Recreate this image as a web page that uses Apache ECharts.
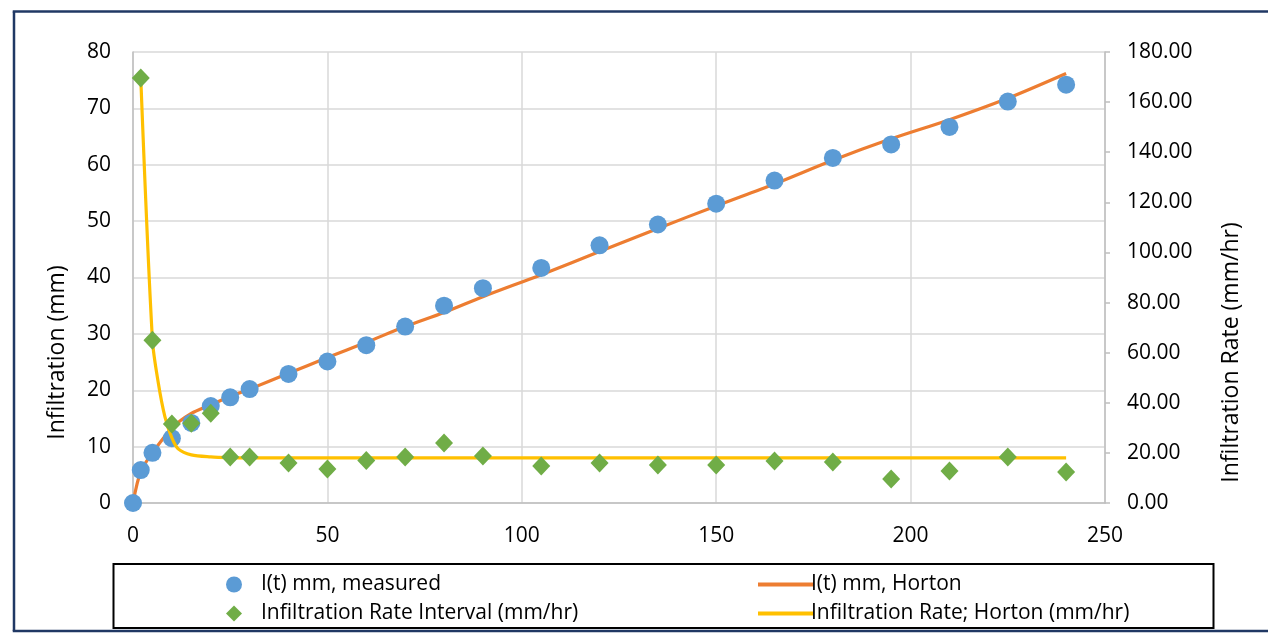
<!DOCTYPE html>
<html>
<head>
<meta charset="utf-8">
<script src="https://cdn.jsdelivr.net/npm/echarts@6/dist/echarts.min.js"></script>
<style>
html,body{margin:0;padding:0;background:#fff;}
#chart{width:1268px;height:635px;}
</style>
</head>
<body>
<div id="chart"></div>
<script>
// Measured cumulative infiltration I(t), mm
const tMeasured = [0,2,5,10,15,20,25,30,40,50,60,70,80,90,105,120,135,150,165,180,195,210,225,240];
const iMeasured = [0,5.85,8.9,11.5,14.2,17.2,18.75,20.2,22.9,25.1,28.0,31.3,35.0,38.1,41.7,45.7,49.4,53.1,57.2,61.2,63.6,66.7,71.2,74.2];

// Horton cumulative infiltration, mm
const tHortonI = [0,2,5,10,15,20,25,30,40,50,60,70,80,90,105,120,135,150,165,180,195,210,225,240];
const iHorton  = [0,5.6,8.9,13.3,15.9,17.4,18.9,20.2,23.0,25.8,28.5,31.3,33.8,36.6,40.5,44.6,48.7,52.7,56.6,60.8,64.6,68.0,71.8,76.2];

// Interval infiltration rate, mm/hr
const tRate = [2,5,10,15,20,25,30,40,50,60,70,80,90,105,120,135,150,165,180,195,210,225,240];
const rateInterval = [169.6,65.0,31.5,31.8,35.8,18.4,18.4,16.0,13.6,17.0,18.4,23.9,18.8,14.8,16.0,15.2,15.2,16.8,16.4,9.6,12.8,18.4,12.4];

// Horton infiltration rate, mm/hr
const tRateH = [2,5,6.5,8.2,10,11.7,15,20,25,30,40,50,60,70,80,90,105,120,135,150,165,180,195,210,225,240];
const rateHorton = [169.6,65.0,48.0,34.5,26.0,21.5,19.2,18.4,18.1,18.0,18.0,18.0,18.0,18.0,18.0,18.0,18.0,18.0,18.0,18.0,18.0,18.0,18.0,18.0,18.0,18.0];

// Axis ticks
const xTicks = {min:0, max:250, interval:50};
const yLeftTicks = {min:0, max:80, interval:10};
const yRightTicks = {min:0, max:180, interval:20};

const legendNames = ['I(t) mm, measured','I(t) mm, Horton','Infiltration Rate Interval (mm/hr)','Infiltration Rate; Horton (mm/hr)'];
const axisTitles = {left:'Infiltration (mm)', right:'Infiltration Rate (mm/hr)'};

const zip = (a,b) => a.map((v,i)=>[v,b[i]]);

const FONT = '"Open Sans", "Liberation Sans", sans-serif';
const C = {blue:'#5B9BD5', orange:'#ED7D31', green:'#70AD47', yellow:'#FFC000'};
const FRAME = '#203864';

const chart = echarts.init(document.getElementById('chart'));
const lbl = {color:'#000', fontFamily:FONT, fontSize:21};
const legText = (pad) => ({color:'#000', fontFamily:FONT, fontSize:21, padding:pad});
chart.setOption({
  animation:false,
  backgroundColor:'#fff',
  grid:{left:133, right:163, top:52, bottom:132, containLabel:false},
  xAxis:{
    type:'value', min:xTicks.min, max:xTicks.max, interval:xTicks.interval,
    axisLine:{show:true, lineStyle:{color:'#BFBFBF', width:1.5}},
    axisTick:{show:false},
    axisLabel:Object.assign({margin:23}, lbl),
    splitLine:{show:true, lineStyle:{color:'#D9D9D9', width:1.5}}
  },
  yAxis:[{
    type:'value', min:yLeftTicks.min, max:yLeftTicks.max, interval:yLeftTicks.interval,
    axisLine:{show:true, lineStyle:{color:'#BFBFBF', width:1.5}},
    axisTick:{show:false},
    axisLabel:Object.assign({margin:22}, lbl),
    splitLine:{show:true, lineStyle:{color:'#D9D9D9', width:1.5}},
    name:axisTitles.left, nameLocation:'middle', nameGap:64,
    nameTextStyle:{color:'#000', fontFamily:FONT, fontSize:23, padding:[0,150,0,0]}
  },{
    type:'value', position:'right', min:yRightTicks.min, max:yRightTicks.max, interval:yRightTicks.interval,
    axisLine:{show:true, lineStyle:{color:'#BFBFBF', width:1.5}},
    axisTick:{show:true, inside:false, length:5, lineStyle:{color:'#BFBFBF', width:1.5}},
    axisLabel:Object.assign({margin:22, formatter:v=>v.toFixed(2)}, lbl),
    splitLine:{show:false},
    name:axisTitles.right, nameLocation:'middle', nameGap:115,
    nameTextStyle:{color:'#000', fontFamily:FONT, fontSize:23, padding:[0,150,0,0]}
  }],
  legend:[
    {data:[{name:legendNames[0], icon:'circle'}], left:221, top:569, itemWidth:16, itemHeight:16, textStyle:legText([0,0,0,14])},
    {data:[{name:legendNames[2], icon:'diamond'}], left:221, top:598, itemWidth:16, itemHeight:16, textStyle:legText([0,0,0,14])},
    {data:[{name:legendNames[1], icon:'rect'}], left:753, top:569, itemWidth:55, itemHeight:4, textStyle:legText([0,0,0,-7])},
    {data:[{name:legendNames[3], icon:'rect'}], left:753, top:598, itemWidth:55, itemHeight:4, textStyle:legText([0,0,0,-7])}
  ],
  graphic:[
    {type:'line', shape:{x1:12.75, y1:11.5, x2:1268, y2:11.5}, style:{stroke:FRAME, lineWidth:2.5}, silent:true, z:100},
    {type:'line', shape:{x1:14, y1:11.5, x2:14, y2:631}, style:{stroke:FRAME, lineWidth:2.5}, silent:true, z:100},
    {type:'line', shape:{x1:12.75, y1:631, x2:1268, y2:631}, style:{stroke:FRAME, lineWidth:2.5}, silent:true, z:100},
    {type:'rect', shape:{x:113.5, y:564, width:1100, height:64}, style:{fill:null, stroke:'#000', lineWidth:2}, silent:true, z:100}
  ],
  series:[
    {name:legendNames[1], type:'line', yAxisIndex:0, data:zip(tHortonI,iHorton), smooth:0.3, showSymbol:false, symbol:'none',
     lineStyle:{color:C.orange, width:3.2}, itemStyle:{color:C.orange}, z:2},
    {name:legendNames[0], type:'scatter', yAxisIndex:0, data:zip(tMeasured,iMeasured), symbol:'circle', symbolSize:18,
     itemStyle:{color:C.blue, opacity:1}, z:3},
    {name:legendNames[3], type:'line', yAxisIndex:1, data:zip(tRateH,rateHorton), smooth:0.3, showSymbol:false, symbol:'none',
     lineStyle:{color:C.yellow, width:3.2}, itemStyle:{color:C.yellow}, z:4},
    {name:legendNames[2], type:'scatter', yAxisIndex:1, data:zip(tRate,rateInterval), symbol:'diamond', symbolSize:[18,19],
     itemStyle:{color:C.green, opacity:1}, z:5}
  ]
});
</script>
</body>
</html>
